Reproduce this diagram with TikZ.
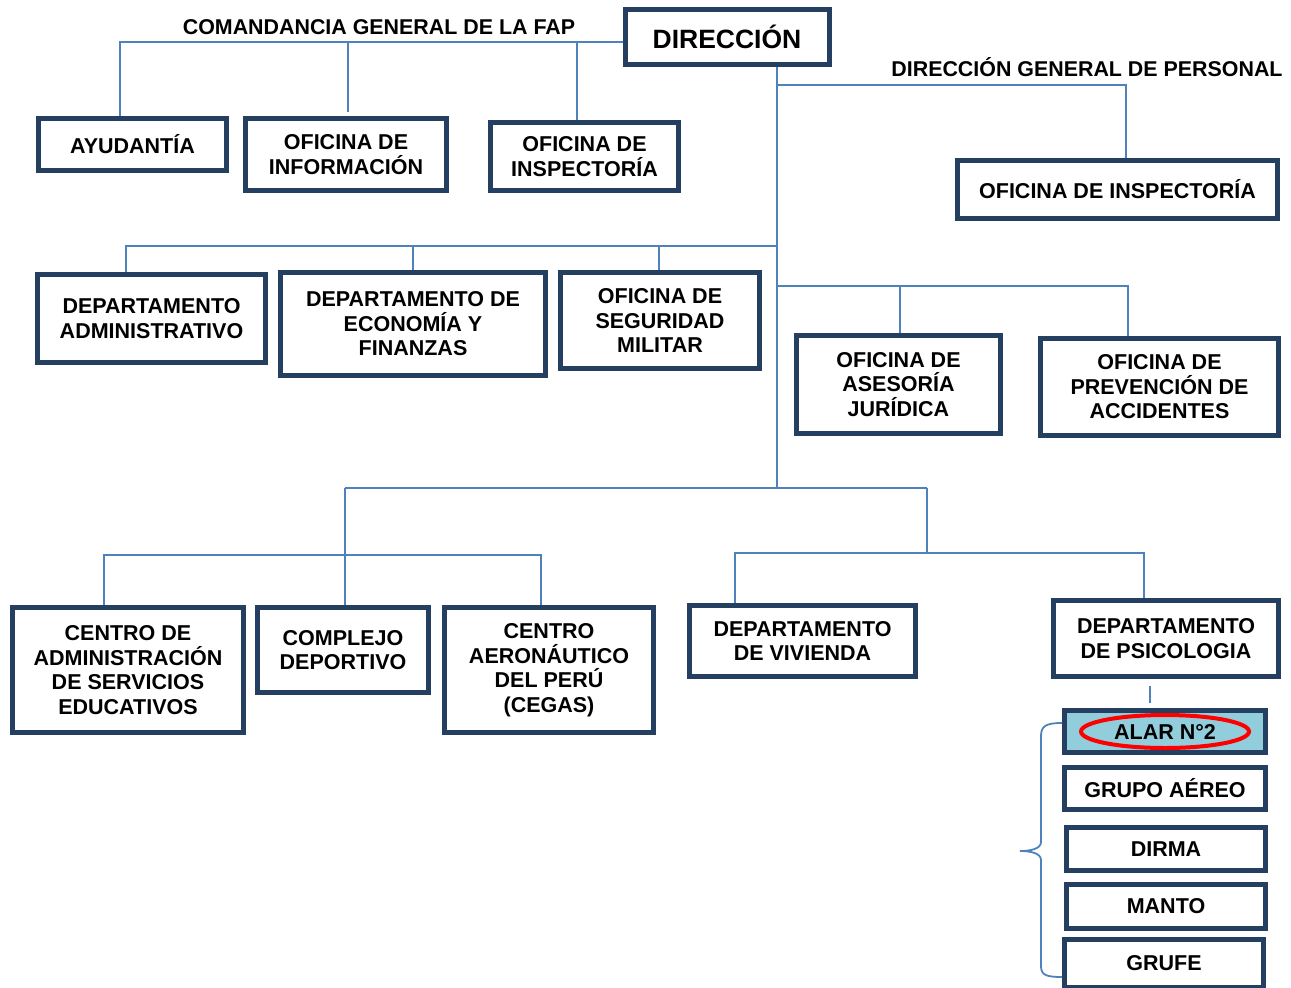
\documentclass[tikz,border=0pt]{standalone}
\usepackage{fontspec}
\setmainfont{Liberation Sans}
\definecolor{navy}{HTML}{243F60}
\definecolor{lineblue}{HTML}{4F81BD}
\definecolor{lightblue}{HTML}{92CDDC}
\begin{document}
\begin{tikzpicture}[x=1pt,y=-1pt,
  box/.style={draw=navy,line width=5pt,fill=white,align=center,inner sep=0pt,
    font=\bfseries\fontsize{21.5}{24.5}\selectfont},
  conn/.style={draw=lineblue,line width=1.8pt},
  lbl/.style={font=\bfseries\fontsize{21.4}{24}\selectfont,inner sep=0pt}]
\useasboundingbox (0,0) rectangle (1291,988);
% boxes
\node[box,minimum width=204pt,minimum height=55pt,font=\bfseries\fontsize{26.5}{30}\selectfont] (dir) at (727,37) {DIRECCIÓN};
\node[box,minimum width=188pt,minimum height=52pt] (ayud) at (132.5,144.5) {AYUDANTÍA};
\node[box,minimum width=201pt,minimum height=72pt] (info) at (346,154.5) {OFICINA DE\\INFORMACIÓN};
\node[box,minimum width=188pt,minimum height=68pt] (insp1) at (584.5,156.5) {OFICINA DE\\INSPECTORÍA};
\node[box,minimum width=320pt,minimum height=58pt] (insp2) at (1117.5,189.5) {OFICINA DE INSPECTORÍA};
\node[box,minimum width=228pt,minimum height=88pt] (dadm) at (151.5,318.5) {DEPARTAMENTO\\ADMINISTRATIVO};
\node[box,minimum width=265pt,minimum height=103pt] (deco) at (413,324) {DEPARTAMENTO DE\\ECONOMÍA Y\\FINANZAS};
\node[box,minimum width=199pt,minimum height=96pt] (segm) at (660,320.5) {OFICINA DE\\SEGURIDAD\\MILITAR};
\node[box,minimum width=204pt,minimum height=98pt] (ases) at (898.5,384.5) {OFICINA DE\\ASESORÍA\\JURÍDICA};
\node[box,minimum width=238pt,minimum height=97pt] (prev) at (1159.5,387) {OFICINA DE\\PREVENCIÓN DE\\ACCIDENTES};
\node[box,minimum width=231pt,minimum height=125pt] (case) at (128,670) {CENTRO DE\\ADMINISTRACIÓN\\DE SERVICIOS\\EDUCATIVOS};
\node[box,minimum width=171pt,minimum height=85pt] (comp) at (343,650) {COMPLEJO\\DEPORTIVO};
\node[box,minimum width=209pt,minimum height=125pt] (cega) at (549,670) {CENTRO\\AERONÁUTICO\\DEL PERÚ\\(CEGAS)};
\node[box,minimum width=226pt,minimum height=71pt] (vivi) at (802.5,641) {DEPARTAMENTO\\DE VIVIENDA};
\node[box,minimum width=225pt,minimum height=76pt] (psic) at (1166,638.5) {DEPARTAMENTO\\DE PSICOLOGIA};
\node[box,fill=lightblue,minimum width=201pt,minimum height=42pt] (alar) at (1165,731.5) {ALAR N°2};
\node[box,minimum width=201pt,minimum height=42pt] (grup) at (1165,788.5) {GRUPO AÉREO};
\node[box,minimum width=199pt,minimum height=43pt] (dirm) at (1166,849) {DIRMA};
\node[box,minimum width=199pt,minimum height=44pt] (mant) at (1166,906.5) {MANTO};
\node[box,minimum width=199pt,minimum height=48pt] (gruf) at (1164,963) {GRUFE};
% red ellipse
\draw[red,line width=4pt] (alar.center) ellipse [x radius=84pt,y radius=16.5pt];
% labels
\node[lbl] (lcom) at (379,27) {COMANDANCIA GENERAL DE LA FAP};
\node[lbl] (lper) at (1087,67) {DIRECCIÓN GENERAL DE PERSONAL};
% connectors top left
\coordinate (j1) at (120,42);
\draw[conn] (dir.west |- j1) -- (j1) -- (j1 |- ayud.north);
\draw[conn] (348,42) -- (348,112);
\draw[conn] (577,42) -- (577 ,0 |- insp1.north);
% trunk
\coordinate (t0) at (777,0);
\coordinate (tb) at (777,488);
\draw[conn] (t0 |- dir.south) -- (tb);
% right inspectoria
\draw[conn] (777,85) -- (1126,85) -- (1126,0 |- insp2.north);
% level at 246
\draw[conn] (777,246) -- (126,246) -- (126,0 |- dadm.north);
\draw[conn] (413,246) -- (413,0 |- deco.north);
\draw[conn] (659,246) -- (659,0 |- segm.north);
% level at 286
\draw[conn] (777,286) -- (1128,286) -- (1128,0 |- prev.north);
\draw[conn] (900,286) -- (900,0 |- ases.north);
% bottom
\draw[conn] (345,488) -- (927,488);
\draw[conn] (345,488) -- (345,0 |- comp.north);
\draw[conn] (104,0 |- case.north) -- (104,555) -- (541,555) -- (541,0 |- cega.north);
\draw[conn] (927,488) -- (927,553);
\draw[conn] (735,0 |- vivi.north) -- (735,553) -- (1144,553) -- (1144,0 |- psic.north);
\draw[conn] ([yshift=-7pt]psic.south -| 1150,0) -- ([yshift=5pt]alar.north -| 1150,0);
% brace
\draw[conn] (1062,723) .. controls (1046,723) and (1041,726) .. (1041,736) -- (1041,842)
  .. controls (1041,849) and (1030,851) .. (1020,851)
  .. controls (1030,851) and (1041,853) .. (1041,860) -- (1041,966)
  .. controls (1041,975) and (1046,977) .. (1062,977);
\end{tikzpicture}
\end{document}
